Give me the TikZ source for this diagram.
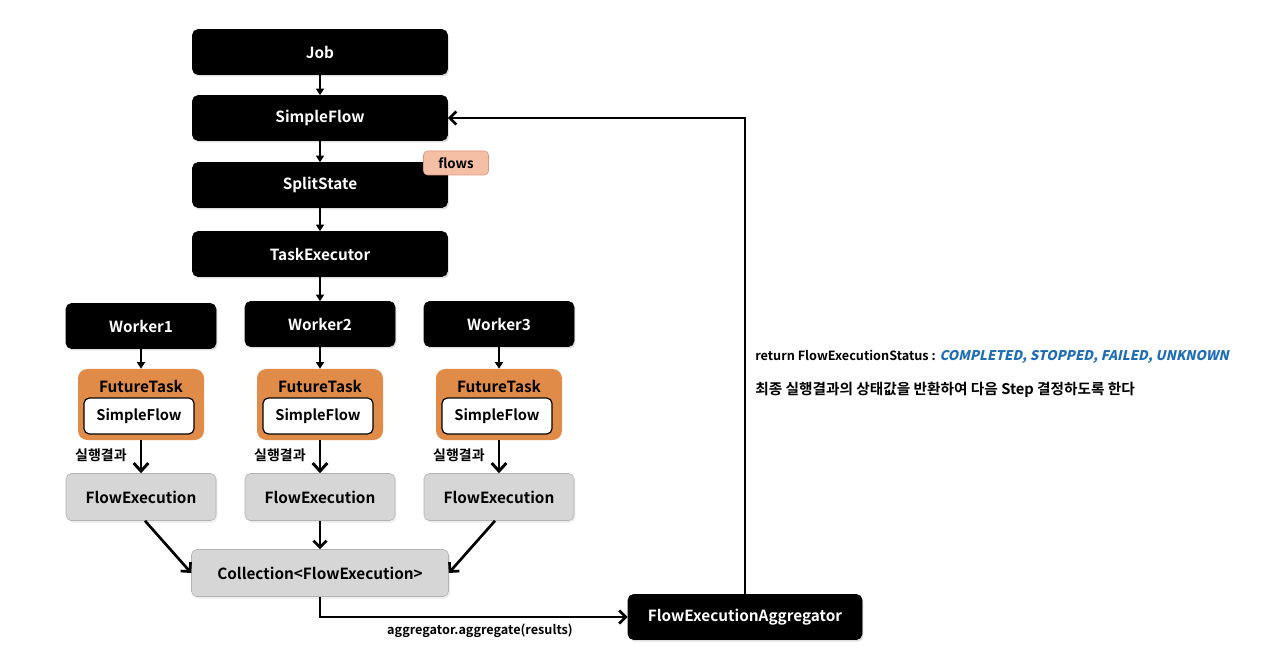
\documentclass[tikz,border=0pt]{standalone}
\usepackage{fontspec}
\setmainfont{Noto Sans CJK KR}[BoldFont={Noto Sans CJK KR Bold}]
\newfontfamily\slantfont{Noto Sans CJK KR Medium}[FakeSlant=0.22]
\usetikzlibrary{arrows.meta,shadows}
\definecolor{orangeft}{HTML}{E08B48}
\definecolor{flowsfill}{HTML}{F5BFA6}
\definecolor{flowsdraw}{HTML}{D99A7C}
\definecolor{grayfill}{HTML}{D6D6D6}
\definecolor{bluetxt}{HTML}{1F6DB5}
\begin{document}
\begin{tikzpicture}[x=0.75pt,y=-0.75pt,
  blackbox/.style={draw=black,fill=black,rounded corners=4pt,text=white,font=\bfseries\fontsize{11.5}{13}\selectfont,
    minimum width=#1*0.75pt,minimum height=45*0.75pt,inner sep=0pt,drop shadow={opacity=0.25,shadow xshift=1pt,shadow yshift=-1.5pt}},
  blackbox/.default=255,
  graybox/.style={draw=gray!60,fill=grayfill,rounded corners=4pt,text=black,font=\bfseries\fontsize{11.5}{13}\selectfont,
    minimum width=#1*0.75pt,minimum height=47*0.75pt,inner sep=0pt,drop shadow={opacity=0.15,shadow xshift=1pt,shadow yshift=-1.5pt}},
  graybox/.default=150,
  futbox/.style={fill=orangeft,rounded corners=7pt,minimum width=126*0.75pt,minimum height=71*0.75pt,inner sep=0pt},
  innerbox/.style={draw=black,fill=white,line width=0.9pt,rounded corners=4pt,minimum width=110*0.75pt,minimum height=36*0.75pt,
    inner sep=0pt,font=\bfseries\fontsize{11}{13}\selectfont},
  futlabel/.style={font=\bfseries\fontsize{11.5}{13}\selectfont,inner sep=0pt},
  thin arrow/.style={line width=1.5pt,-{Triangle[length=5pt,width=6pt]}},
  thick arrow/.style={line width=2.2pt,-{Straight Barb[length=6pt,width=11pt,line width=2.2pt]}},
  mid arrow/.style={line width=2pt,-{Straight Barb[length=5pt,width=10pt,line width=2pt]}},
  smalltxt/.style={font=\bfseries\fontsize{9.5}{11}\selectfont,inner sep=0pt},
  kortxt/.style={font=\bfseries\fontsize{10.5}{12}\selectfont,inner sep=0pt}
]
\useasboundingbox (0,0) rectangle (1280,655);
\fill[white] (0,0) rectangle (1280,655);

% top column
\node[blackbox] (job) at (320,52) {Job};
\node[blackbox] (sf) at (320,118) {SimpleFlow};
\node[blackbox] (split) at (320,185) {SplitState};
\node[blackbox] (te) at (320,254) {TaskExecutor};
\node[draw=flowsdraw,fill=flowsfill,rounded corners=3pt,minimum width=65*0.75pt,minimum height=24*0.75pt,inner sep=0pt,
  font=\bfseries\fontsize{10}{12}\selectfont] (flows) at (456,163) {flows};

\draw[thin arrow] (job) -- (sf);
\draw[thin arrow] (sf) -- (split);
\draw[thin arrow] (split) -- (te);

% workers
\node[blackbox=150] (w1) at (141,326) {Worker1};
\node[blackbox=150] (w2) at (320,324) {Worker2};
\node[blackbox=150] (w3) at (499,324) {Worker3};
\draw[thin arrow] (te) -- (w2);

% future tasks
\foreach \i/\x in {1/141,2/320,3/499}{
  \node[futbox] (ft\i) at (\x,404.5) {};
  \node[futlabel] (ftl\i) at (\x,386) {FutureTask};
  \node[innerbox] (isf\i) at (\x-2,416) {SimpleFlow};
  \node[graybox] (fe\i) at (\x,497) {FlowExecution};
  \draw[thick arrow] (ft\i) -- (fe\i);
  \node[kortxt,anchor=east] (res\i) at (\x-14,455) {실행결과};
}
\draw[thin arrow] (w1) -- (ft1);
\draw[thin arrow] (w2) -- (ft2);
\draw[thin arrow] (w3) -- (ft3);

% collection
\node[graybox=257] (coll) at (320,573) {Collection<FlowExecution>};
\draw[mid arrow] (fe1.south) ++(4,0) coordinate (fe1b) -- (coll.west);
\draw[mid arrow] (fe2) -- (coll);
\draw[mid arrow] (fe3.south) ++(-4,0) coordinate (fe3b) -- (coll.east);

% aggregator
\node[blackbox=234] (agg) at (745,617) {FlowExecutionAggregator};
\draw[mid arrow] (coll.south) |- (agg.west);
\node[smalltxt] (aggtxt) at (480,631) {aggregator.aggregate(results)};
\draw[mid arrow] (agg.north) |- (sf.east);

% right text
\node[smalltxt,anchor=west] (ret) at (755,357) {return FlowExecutionStatus : \textcolor{bluetxt}{\slantfont\fontsize{10}{12}\selectfont COMPLETED, STOPPED, FAILED, UNKNOWN}};
\node[kortxt,anchor=west,font=\bfseries\fontsize{11}{13}\selectfont] (desc) at (755,390) {최종 실행결과의 상태값을 반환하여 다음 Step 결정하도록 한다};
\end{tikzpicture}
\end{document}
